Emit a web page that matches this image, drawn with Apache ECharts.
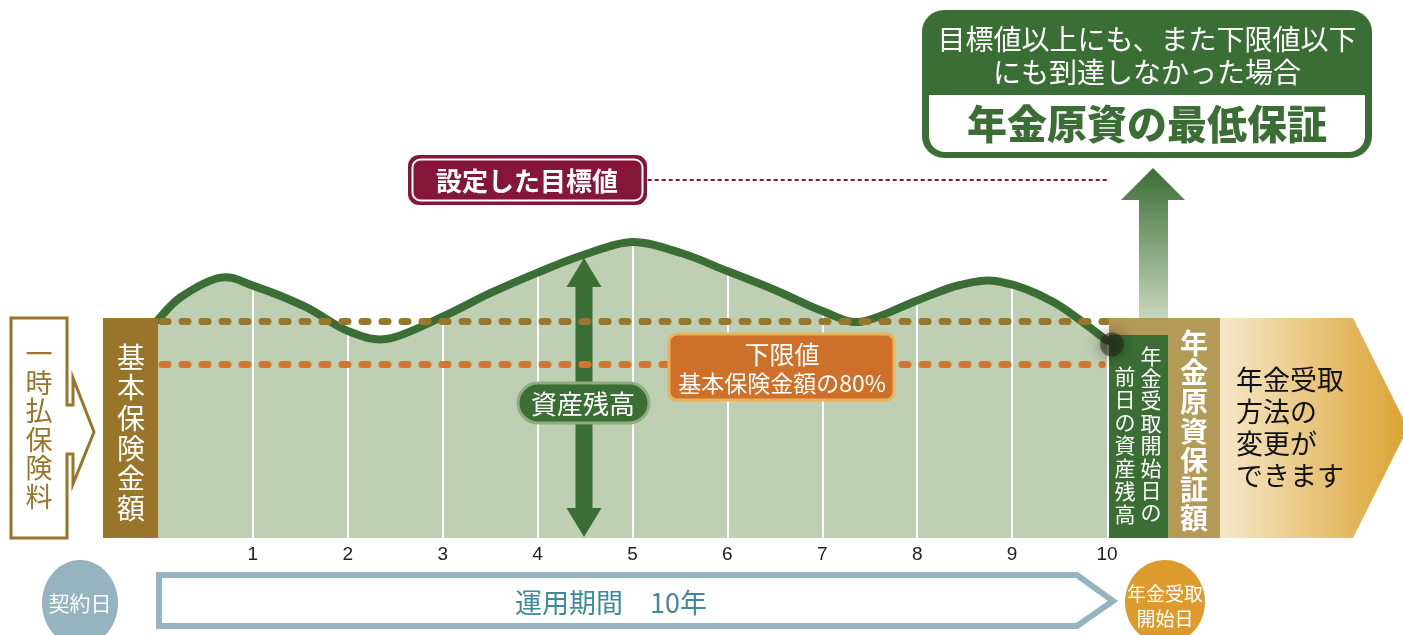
<!DOCTYPE html>
<html><head><meta charset="utf-8">
<script src="https://cdn.jsdelivr.net/npm/echarts@6/dist/echarts.min.js"></script>
<style>html,body{margin:0;padding:0;background:#fff}#c{width:1403px;height:635px}</style>
</head><body><div id="c"></div>
<script>
// ---- data ----
// asset-balance curve: points (peaks, troughs and points between)
const years   = [0, 0.24, 0.66, 1.0, 1.55, 2.0, 2.42, 3.0, 3.5, 4.0, 4.48, 5.0, 5.52, 6.0, 6.5, 7.0, 7.41, 8.0, 8.45, 8.87, 9.43, 10];
const balance = [100.5, 111, 120, 116.3, 106.6, 95.4, 91.8, 102, 112.8, 122.3, 130.4, 136.4, 131.2, 123, 114.3, 104.6, 99.7, 109.5, 116.6, 118.1, 108.9, 91];
// balance read at each year line (heights of the white year lines)
const gridYears = [1, 2, 3, 4, 5, 6, 7, 8, 9];
const gridTops  = [116.3, 95.4, 102, 122.3, 136.4, 123, 104.6, 109.5, 117.4];
const xTickLabels = ['', '1', '2', '3', '4', '5', '6', '7', '8', '9', '10'];
const BASIC = 100;      // 基本保険金額
const FLOOR = 80;       // 下限値 (80%)
const TARGET = 165;     // 設定した目標値
const TARGET_FROM = 5.16;

// ---- styles ----
const GREEN = '#3b6e35', LIGHT = '#bfcfb4', BROWN = '#987529', BROWN2 = '#b39a57';
const ORANGE = '#ce7029', MAROON = '#85163a', TEAL = '#96b4bf', TEALTXT = '#3f8a99', GOLD = '#dc9b2c';
const FF = '"Noto Sans CJK JP","Noto Sans",sans-serif';

const chart = echarts.init(document.getElementById('c'));
const pts = years.map((x, i) => [x, balance[i]]);

// Catmull-Rom spline through the data points, positioned with the chart's own axes
function spline(api) {
  const p = pts.map(d => api.coord(d));
  let d = 'M' + p[0][0] + ' ' + p[0][1];
  for (let i = 0; i < p.length - 1; i++) {
    const p0 = p[i - 1] || p[i], p1 = p[i], p2 = p[i + 1], p3 = p[i + 2] || p[i + 1];
    const c1 = [p1[0] + (p2[0] - p0[0]) / 6, p1[1] + (p2[1] - p0[1]) / 6];
    const c2 = [p2[0] - (p3[0] - p1[0]) / 6, p2[1] - (p3[1] - p1[1]) / 6];
    d += ' C' + c1[0] + ' ' + c1[1] + ' ' + c2[0] + ' ' + c2[1] + ' ' + p2[0] + ' ' + p2[1];
  }
  return { d: d, p: p };
}

chart.setOption({
  animation: false,
  grid: { left: 158, right: 296, top: 104, bottom: 97 },
  xAxis: {
    type: 'value', min: 0, max: 10, interval: 1,
    axisLine: { show: false }, axisTick: { show: false }, splitLine: { show: false },
    axisLabel: { formatter: v => xTickLabels[Math.round(v)] || '', color: '#222', fontSize: 19, fontFamily: '"Liberation Sans",Arial,sans-serif', margin: 7 }
  },
  yAxis: { type: 'value', min: 0, max: 200, show: false },
  series: [
    { type: 'custom', z: 1, silent: true, data: [pts[0]],
      renderItem: (params, api) => {
        const s = spline(api);
        const base = api.coord([0, 0])[1];
        const last = s.p[s.p.length - 1];
        return { type: 'path', shape: { pathData: s.d + ' L' + last[0] + ' ' + base + ' L' + s.p[0][0] + ' ' + base + ' Z' },
          style: { fill: LIGHT, stroke: null } };
      } },
    { type: 'line', z: 2, data: pts, symbol: 'none', silent: true, lineStyle: { opacity: 0, width: 0 },
      markLine: { z: 2, silent: true, symbol: 'none', label: { show: false },
        lineStyle: { color: '#fff', width: 2, type: 'solid' },
        data: gridYears.map((x, i) => [{ coord: [x, 0] }, { coord: [x, gridTops[i]] }]) } },
    { type: 'custom', z: 3, silent: true, data: [pts[0]],
      renderItem: (params, api) => {
        const s = spline(api);
        return { type: 'path', shape: { pathData: s.d },
          style: { fill: null, stroke: GREEN, lineWidth: 8, lineCap: 'round', lineJoin: 'round' } };
      } },
    { type: 'line', z: 5, data: pts, symbol: 'none', silent: true, lineStyle: { opacity: 0, width: 0 },
      markLine: { z: 5, silent: true, symbol: 'none', label: { show: false },
        data: [
          [{ coord: [0, BASIC], lineStyle: { color: '#9a7728', width: 7, type: [6, 14], cap: 'round', dashOffset: -4 } }, { coord: [10, BASIC] }],
          [{ coord: [0, FLOOR], lineStyle: { color: '#d4752d', width: 7, type: [6, 14], cap: 'round', dashOffset: -4 } }, { coord: [9.95, FLOOR] }],
          [{ coord: [TARGET_FROM, TARGET], lineStyle: { color: MAROON, width: 2, type: [4, 3] } }, { coord: [10, TARGET] }]
        ] } }
  ]
});

const P = (x, y) => chart.convertToPixel({ gridIndex: 0 }, [x, y]);
const [x0, yb] = P(0, 0);
const yTop = P(0, BASIC)[1] - 3;
const [x10, yEnd] = P(10, balance[balance.length - 1]);

function txt(x, y, text, size, color, opt) {
  opt = opt || {};
  return { type: 'text', z: opt.z || 8, x: x, y: y, silent: true,
    style: { text: text, fill: color, font: (opt.weight || 'normal') + ' ' + size + 'px ' + FF,
      textAlign: opt.align || 'center', textVerticalAlign: 'middle', align: opt.align || 'center', verticalAlign: 'middle',
      lineHeight: opt.lh || size * 1.2 } };
}
const vert = s => s.split('').join('\n');

const g = [];
// 一時払保険料 arrow outline
g.push({ type: 'polygon', z: 6, silent: true,
  shape: { points: [[11, yTop], [67, yTop], [67, 405], [73, 405], [73, 378], [94, 432], [73, 484], [73, 454], [67, 454], [67, yb], [11, yb]] },
  style: { fill: '#fff', stroke: BROWN, lineWidth: 3 } });
g.push(txt(39, 425, vert('一時払保険料'), 27, BROWN, { lh: 28.5 }));
// 基本保険金額 bar
g.push({ type: 'rect', z: 6, silent: true, shape: { x: 103, y: yTop, width: x0 - 103, height: yb - yTop }, style: { fill: BROWN } });
g.push(txt(131, 433, vert('基本保険金額'), 28, '#fff', { lh: 30.2 }));

// 資産残高 double arrow
const cx = 584;
g.push({ type: 'polygon', z: 4, silent: true,
  shape: { points: [[cx, 258], [cx + 17.5, 287], [cx + 8.5, 287], [cx + 8.5, 508], [cx + 17.5, 508], [cx, 537],
    [cx - 17.5, 508], [cx - 8.5, 508], [cx - 8.5, 287], [cx - 17.5, 287]] },
  style: { fill: GREEN } });
g.push({ type: 'rect', z: 6, silent: true, shape: { x: 518, y: 383, width: 131, height: 40, r: 20 },
  style: { fill: GREEN, stroke: '#8fae80', lineWidth: 3 } });
g.push(txt(583, 404, '資産残高', 26, '#fff'));

// 下限値 box
g.push({ type: 'rect', z: 6, silent: true, shape: { x: 669, y: 334, width: 225, height: 66, r: 8 },
  style: { fill: ORANGE, stroke: '#e9b35a', lineWidth: 3 } });
g.push(txt(782, 354, '下限値', 25, '#fff'));
g.push(txt(782, 383, '基本保険金額の80%', 23, '#fff'));

// 設定した目標値 box
g.push({ type: 'rect', z: 6, silent: true, shape: { x: 408, y: 155, width: 239, height: 50, r: 11 }, style: { fill: MAROON } });
g.push({ type: 'rect', z: 7, silent: true, shape: { x: 412.5, y: 159.5, width: 230, height: 41, r: 8 }, style: { fill: 'none', stroke: '#fff', lineWidth: 2 } });
g.push(txt(527, 181, '設定した目標値', 26, '#fff', { weight: 'bold' }));

// top-right green box
g.push({ type: 'rect', z: 6, silent: true, shape: { x: 922, y: 10, width: 450, height: 148, r: 22 }, style: { fill: GREEN } });
g.push({ type: 'rect', z: 7, silent: true, shape: { x: 929, y: 95, width: 436, height: 57, r: [0, 0, 16, 16] }, style: { fill: '#fff' } });
g.push(txt(1147, 39, '目標値以上にも、また下限値以下', 28, '#fff'));
g.push(txt(1147, 72, 'にも到達しなかった場合', 28, '#fff'));
g.push(txt(1147, 124, '年金原資の最低保証', 40, GREEN, { weight: '900' }));

// up arrow with gradient
g.push({ type: 'polygon', z: 4, silent: true,
  shape: { points: [[1153, 168], [1185, 200], [1168, 200], [1168, yTop + 2], [1139, yTop + 2], [1139, 200], [1121, 200]] },
  style: { fill: { type: 'linear', x: 0, y: 0, x2: 0, y2: 1, colorStops: [{ offset: 0, color: GREEN }, { offset: 1, color: '#c9d8bf' }] } } });

// right-hand boxes
g.push({ type: 'rect', z: 6, silent: true, shape: { x: 1109, y: yTop, width: 111, height: yb - yTop }, style: { fill: BROWN2 } });
g.push({ type: 'rect', z: 6, silent: true, shape: { x: 1109, y: 335, width: 59, height: yb - 335 }, style: { fill: GREEN } });
g.push({ type: 'circle', z: 7, silent: true, shape: { cx: x10 + 5, cy: yEnd + 4, r: 12 },
  style: { fill: 'rgba(30,32,20,0.55)', shadowBlur: 16, shadowColor: 'rgba(0,0,0,0.75)' } });
g.push(txt(1151, 434, vert('年金受取開始日の'), 21, '#fff', { lh: 22.4 }));
g.push(txt(1125, 445, vert('前日の資産残高'), 21, '#fff', { lh: 23 }));
g.push(txt(1194, 431, vert('年金原資保証額'), 28, '#fff', { weight: 'bold', lh: 29.2 }));

// gold pentagon arrow
g.push({ type: 'polygon', z: 6, silent: true,
  shape: { points: [[1220, yTop], [1353, yTop], [1408, 428], [1353, yb], [1220, yb]] },
  style: { fill: { type: 'linear', x: 0, y: 0, x2: 1, y2: 0, colorStops: [{ offset: 0, color: '#f6e8ca' }, { offset: 1, color: '#dba230' }] } } });
g.push(txt(1236, 428, '年金受取\n方法の\n変更が\nできます', 27, '#111', { align: 'left', lh: 32 }));

// bottom timeline
g.push({ type: 'ellipse', z: 6, silent: true, shape: { cx: 80, cy: 603, rx: 38, ry: 43 }, style: { fill: TEAL } });
g.push(txt(80, 603, '契約日', 21, '#fff'));
g.push({ type: 'polygon', z: 6, silent: true,
  shape: { points: [[159, 575], [1077, 575], [1113, 601], [1077, 626], [159, 626]] },
  style: { fill: '#fff', stroke: TEAL, lineWidth: 6, lineJoin: 'miter' } });
g.push(txt(611, 603, '運用期間　10年', 27, TEALTXT));
g.push({ type: 'ellipse', z: 6, silent: true, shape: { cx: 1165, cy: 602, rx: 40, ry: 42 }, style: { fill: GOLD } });
g.push(txt(1165, 606, '年金受取\n開始日', 19, '#fff', { lh: 25 }));

chart.setOption({ graphic: { elements: g } });
</script></body></html>
